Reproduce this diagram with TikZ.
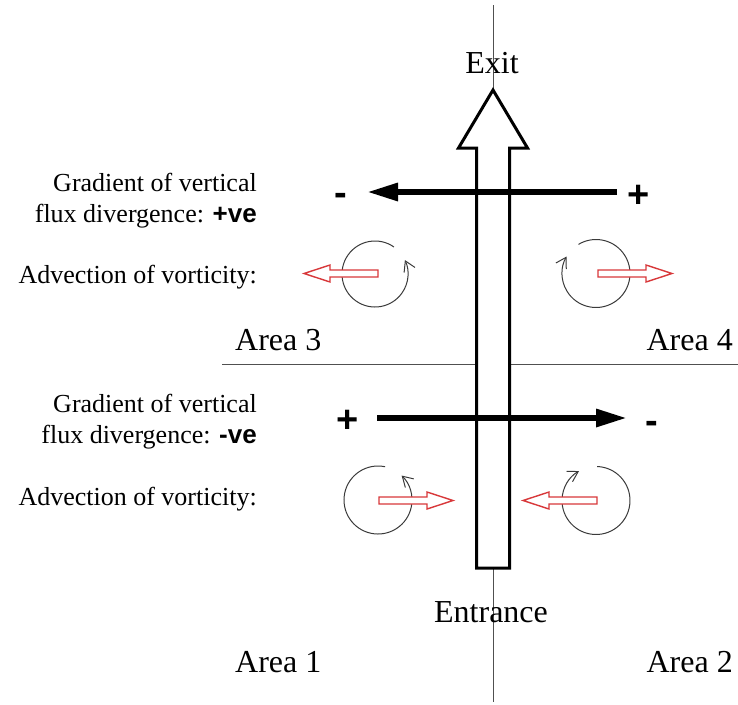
\documentclass[tikz,border=0pt]{standalone}
\usepackage{fontspec}
\setmainfont{Liberation Serif}
\newfontfamily\signfont{Liberation Sans}
\usetikzlibrary{arrows.meta}
\definecolor{outline}{HTML}{D8383A}
\definecolor{swirlgray}{HTML}{3A3A3A}
\definecolor{guidegray}{HTML}{505050}

\tikzset{
    hollow/.pic={
        \path[redout] (0,-3.5) -- (-48,-3.5) -- (-48,-8.5) -- (-74,0)
            -- (-48,8.5) -- (-48,3.5) -- (0,3.5) -- cycle;
    }
}

\begin{document}
\begin{tikzpicture}[x=1pt, y=-1pt,
    every node/.style={inner sep=0pt},
    sidetext/.style={font=\fontsize{26}{31}\selectfont, align=right},
    areatext/.style={font=\fontsize{32}{36}\selectfont},
    signtext/.style={font=\signfont\bfseries\fontsize{38}{40}\selectfont},
    guideline/.style={draw=guidegray, line width=1pt},
    channel/.style={draw=black, fill=white, line width=3pt, line join=miter},
    flux/.style={line width=6pt, -{Triangle[length=31pt,width=17pt]}},
    swirl/.style={draw=swirlgray, line width=1pt, -{Straight Barb[length=10pt,width=12pt]}},
    redout/.style={draw=outline, fill=white, line width=1.4pt, line join=miter}
]
    \useasboundingbox (0,0) rectangle (738,704);

    % guide lines
    \draw[guideline] (493.5,5) -- (493.5,702);
    \draw[guideline] (222,364) -- (738,364);

    % channel arrow
    \draw[channel] (476.5,568) -- (476.5,148) -- (458.5,148) -- (493,90)
        -- (527.5,148) -- (509.5,148) -- (509.5,568) -- cycle;

    % gradient arrows
    \coordinate (tailU) at (617,192);
    \coordinate (tipU)  at (367,192);
    \coordinate (tailL) at (377,418);
    \coordinate (tipL)  at (627,418);
    \draw[flux] (tailU) -- (tipU);
    \draw[flux] (tailL) -- (tipL);

    \node[signtext, anchor=base] (minusU) at (341,205) {-};
    \node[signtext, anchor=base] (plusU)  at (639,207) {+};
    \node[signtext, anchor=base] (plusL)  at (348,432) {+};
    \node[signtext, anchor=base] (minusL) at (652,433) {-};

    % vortices
    \coordinate (vort3) at (375,274);
    \coordinate (vort4) at (596,273.5);
    \coordinate (vort1) at (378,500);
    \coordinate (vort2) at (596,500.5);
    \draw[swirl] (vort3) ++(-55:33) arc[start angle=-55, end angle=-385, radius=33];
    \draw[swirl] (vort4) ++(-121:34) arc[start angle=-121, end angle=210, radius=34];
    \draw[swirl] (vort1) ++(-78:34) arc[start angle=-78, end angle=-406, radius=34];
    \draw[swirl] (vort2) ++(-88:34) arc[start angle=-88, end angle=240, radius=34];

    % advection arrows
    \pic at (378,273.5) {hollow};
    \pic[xscale=-1] at (598,273.5) {hollow};
    \pic[xscale=-1] at (379,500.5) {hollow};
    \pic at (597,500.5) {hollow};

    % texts
    \node[sidetext, anchor=east] (grad34) at (257,200.5)
        {Gradient of vertical\\flux divergence: {\signfont\bfseries +ve}};
    \node[sidetext, anchor=base east] (adv34) at (257,283) {Advection of vorticity:};
    \node[sidetext, anchor=east] (grad12) at (257,421.5)
        {Gradient of vertical\\flux divergence: {\signfont\bfseries -ve}};
    \node[sidetext, anchor=base east] (adv12) at (257,505) {Advection of vorticity:};

    \node[areatext, anchor=base] (exit) at (492,73) {Exit};
    \node[areatext, anchor=base] (entrance) at (491,622) {Entrance};
    \node[areatext, anchor=base west] (area3) at (235,350) {Area 3};
    \node[areatext, anchor=base east] (area4) at (733,350) {Area 4};
    \node[areatext, anchor=base west] (area1) at (235,672) {Area 1};
    \node[areatext, anchor=base east] (area2) at (733,672) {Area 2};
\end{tikzpicture}
\end{document}
